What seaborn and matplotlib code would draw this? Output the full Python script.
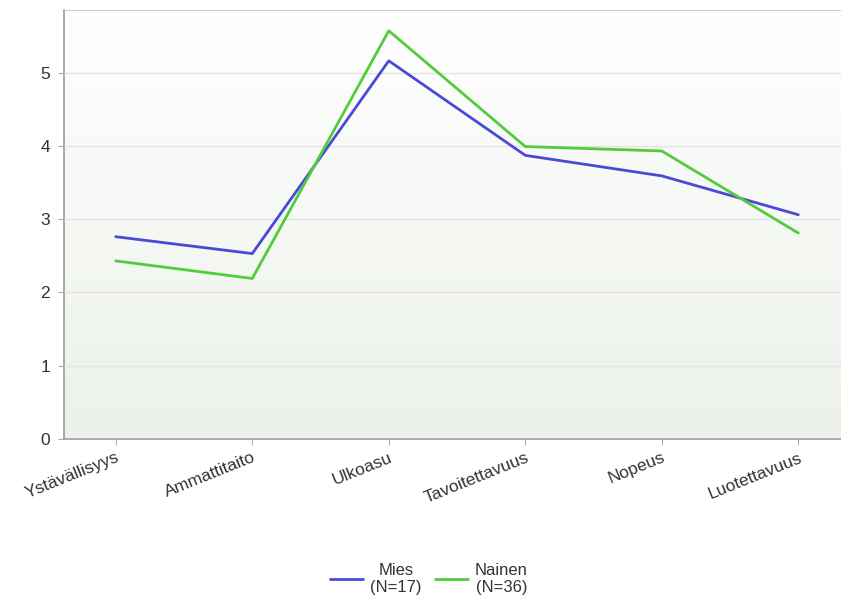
import numpy as np
import pandas as pd
import matplotlib
matplotlib.use("Agg")
import matplotlib.pyplot as plt
import seaborn as sns

categories = ["Ystävällisyys", "Ammattitaito", "Ulkoasu", "Tavoitettavuus", "Nopeus", "Luotettavuus"]
mies = [2.76, 2.53, 5.16, 3.87, 3.59, 3.06]
nainen = [2.43, 2.19, 5.57, 3.99, 3.93, 2.81]
series_labels = ["Mies\n(N=17)", "Nainen\n(N=36)"]
y_ticks = [0, 1, 2, 3, 4, 5]

df = pd.DataFrame({
    "kategoria": categories * 2,
    "arvo": mies + nainen,
    "ryhmä": [series_labels[0]] * len(categories) + [series_labels[1]] * len(categories),
})

sns.set_style("white")
plt.rcParams["font.family"] = ["Liberation Sans", "DejaVu Sans"]

fig = plt.figure(figsize=(8.41, 6.03), dpi=100)
ax = fig.add_axes([0.076, 0.272, 0.93, 0.711])

# vertical background gradient: white at top, pale green-grey at bottom
grad = np.linspace(0, 1, 256).reshape(-1, 1)
top = np.array([1.0, 1.0, 1.0])
bottom = np.array([0.925, 0.945, 0.915])
img = top + (bottom - top) * grad[..., None]
ax.imshow(img, extent=[0, 1, 0, 1], transform=ax.transAxes, aspect="auto", zorder=0)

sns.lineplot(data=df, x="kategoria", y="arvo", hue="ryhmä", sort=False,
             palette=["#4a4ad6", "#52cc3c"], linewidth=2, ax=ax, zorder=3)

ax.set_xlim(-0.38, 5.35)
ax.set_ylim(0, 5.85)
ax.set_yticks(y_ticks)
ax.yaxis.grid(True, color="#e4e4e4", linewidth=1, zorder=1)
ax.set_axisbelow(False)
ax.set_xlabel("")
ax.set_ylabel("")

for side in ["left", "bottom"]:
    ax.spines[side].set_color("#999999")
    ax.spines[side].set_linewidth(1.2)
ax.spines["top"].set_color("#cccccc")
ax.spines["right"].set_visible(False)

ax.tick_params(axis="both", which="both", length=4, color="#aaaaaa",
               labelsize=12.5, labelcolor="#333333", direction="out")
ax.tick_params(axis="y", left=True, pad=6)
ax.tick_params(axis="x", bottom=True, pad=4)
plt.setp(ax.get_xticklabels(), rotation=22, ha="right", rotation_mode="anchor")

ax.get_legend().remove()
handles, labels = ax.get_legend_handles_labels()
leg = fig.legend(handles, labels, loc="center", bbox_to_anchor=(0.51, 0.04), ncol=2,
                 frameon=False, fontsize=12, handlelength=2, columnspacing=0.8,
                 handletextpad=0.4)
for t in leg.get_texts():
    t.set_color("#333333")
    t.set_ha("center")
    t.set_multialignment("center")

fig.savefig("out.png", dpi=100)
